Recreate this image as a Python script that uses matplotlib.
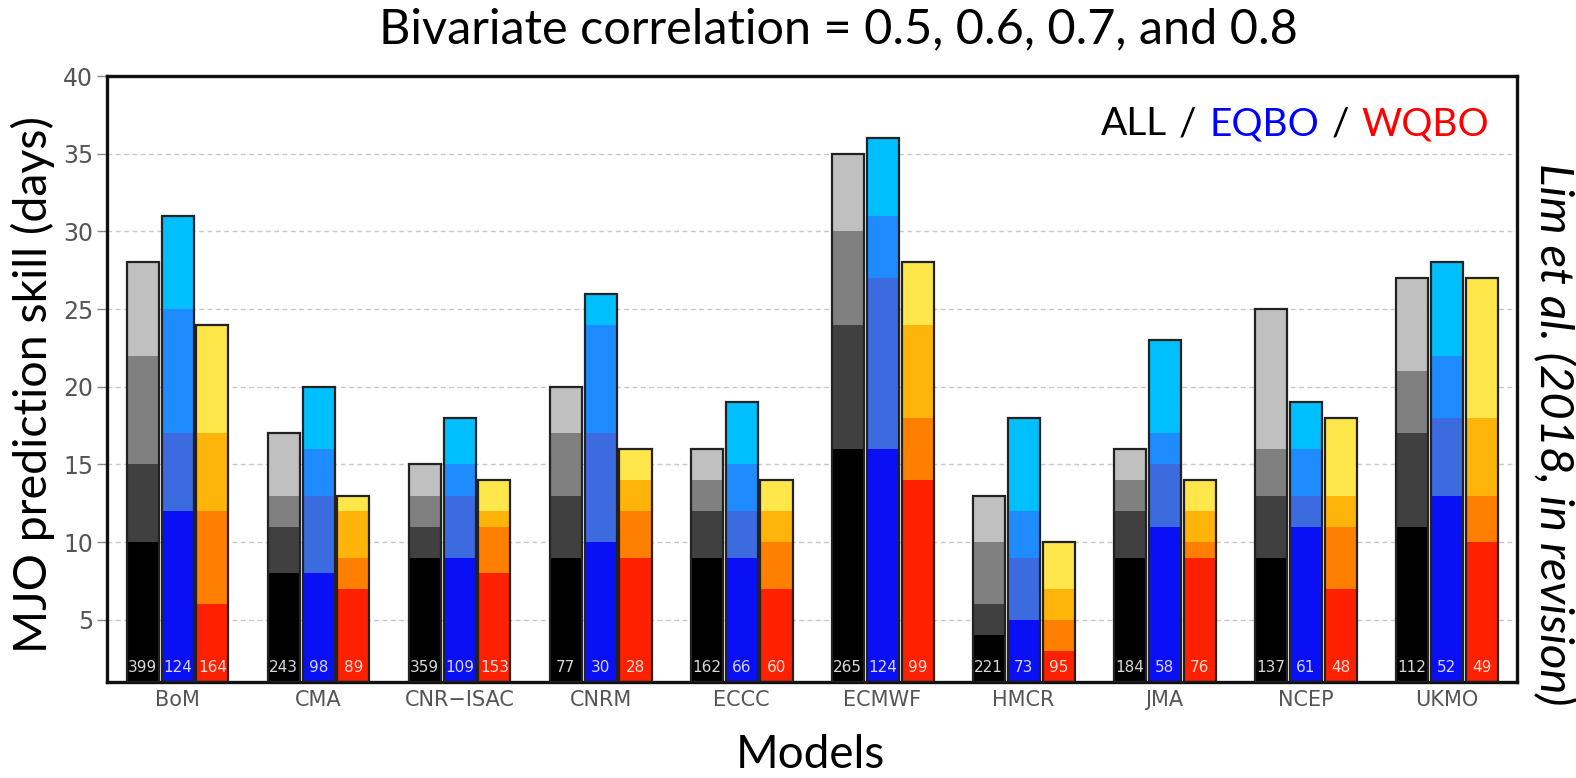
import numpy as np
import matplotlib
matplotlib.use("Agg")
import matplotlib.pyplot as plt

models = ["BoM", "CMA", "CNR\u2212ISAC", "CNRM", "ECCC", "ECMWF", "HMCR", "JMA", "NCEP", "UKMO"]

# skill (days) for correlation thresholds 0.8, 0.7, 0.6, 0.5
all_08 = [10, 8, 9, 9, 9, 16, 4, 9, 9, 11]
all_07 = [15, 11, 11, 13, 12, 24, 6, 12, 13, 17]
all_06 = [22, 13, 13, 17, 14, 30, 10, 14, 16, 21]
all_05 = [28, 17, 15, 20, 16, 35, 13, 16, 25, 27]

eqbo_08 = [12, 8, 9, 10, 9, 16, 5, 11, 11, 13]
eqbo_07 = [17, 13, 13, 17, 12, 27, 9, 15, 13, 18]
eqbo_06 = [25, 16, 15, 24, 15, 31, 12, 17, 16, 22]
eqbo_05 = [31, 20, 18, 26, 19, 36, 18, 23, 19, 28]

wqbo_08 = [6, 7, 8, 9, 7, 14, 3, 9, 7, 10]
wqbo_07 = [12, 9, 11, 12, 10, 18, 5, 10, 11, 13]
wqbo_06 = [17, 12, 12, 14, 12, 24, 7, 12, 13, 18]
wqbo_05 = [24, 13, 14, 16, 14, 28, 10, 14, 18, 27]

# number of cases
n_all = [399, 243, 359, 77, 162, 265, 221, 184, 137, 112]
n_eqbo = [124, 98, 109, 30, 66, 124, 73, 58, 61, 52]
n_wqbo = [164, 89, 153, 28, 60, 99, 95, 76, 48, 49]

groups = [
    ([all_08, all_07, all_06, all_05], ["#000000", "#404040", "#808080", "#c0c0c0"], n_all, "#d8d8d8"),
    ([eqbo_08, eqbo_07, eqbo_06, eqbo_05], ["#0a10f5", "#3c6be0", "#1e8cff", "#00bfff"], n_eqbo, "#d4d4ff"),
    ([wqbo_08, wqbo_07, wqbo_06, wqbo_05], ["#ff2000", "#ff8000", "#ffb40a", "#ffe64a"], n_wqbo, "#ffdcd4"),
]

ymin = 1
x = np.arange(len(models))
width = 0.227
offsets = [-0.248, 0.0, 0.248]

fig = plt.figure(figsize=(15.76, 7.78), dpi=100)
ax = fig.add_axes([0.0679, 0.1234, 0.8947, 0.7789])

for (levels, colors, counts, tcol), off in zip(groups, offsets):
    bottom = np.full(len(models), ymin, dtype=float)
    for vals, c in zip(levels, colors):
        v = np.array(vals, dtype=float)
        ax.bar(x + off, v - bottom, width, bottom=bottom, color=c, linewidth=0, zorder=2)
        bottom = v
    ax.bar(x + off, np.array(levels[-1]) - ymin, width, bottom=ymin, fill=False,
           edgecolor="#222222", linewidth=1.6, zorder=3)
    for xi, n in zip(x + off, counts):
        ax.text(xi, 1.95, str(n), ha="center", va="center", fontsize=11,
                color=tcol, family="DejaVu Sans", zorder=4)

ax.set_xlim(-0.5, 9.5)
ax.set_ylim(ymin, 40)
ax.set_yticks([5, 10, 15, 20, 25, 30, 35, 40])
ax.set_xticks(x)
ax.set_xticklabels(models)
ax.tick_params(axis="y", direction="out", length=7, width=1, color="#888888",
               labelsize=17, labelcolor="#555555", pad=3)
ax.tick_params(axis="x", length=0, labelsize=15, labelcolor="#555555", pad=6)
ax.yaxis.grid(True, linestyle=(0, (3.5, 2.5)), color="#c8c8c8", linewidth=1, zorder=0)
ax.set_axisbelow(True)
for s in ax.spines.values():
    s.set_linewidth(2.4)
    s.set_color("#111111")

big = "Lato"
fig.text(0.532, 0.962, "Bivariate correlation = 0.5, 0.6, 0.7, and 0.8",
         ha="center", va="center", fontsize=35, family=big)
fig.text(0.021, 0.506, "MJO prediction skill (days)", rotation=90,
         ha="center", va="center", fontsize=33.5, family=big)
fig.text(0.514, 0.03, "Models", ha="center", va="center", fontsize=33, family=big)
fig.text(0.986, 0.442, "Lim et al. (2018, in revision)", rotation=270,
         ha="center", va="center", fontsize=34, style="italic", family=big)

# ALL / EQBO / WQBO label
t = ax.text(0.7045, 0.92, "ALL", transform=ax.transAxes, fontsize=28,
            family=big, color="black", ha="left", va="center")
parts = [("/", "black"), ("EQBO", "#0000ff"), ("/", "black"), ("WQBO", "#ff0000")]
for s, c in parts:
    t = ax.annotate(s, xy=(1, 0), xycoords=t, xytext=(9, 0),
                    textcoords="offset points", fontsize=28, family=big,
                    color=c, ha="left", va="bottom")

fig.savefig("out.png", dpi=100)
